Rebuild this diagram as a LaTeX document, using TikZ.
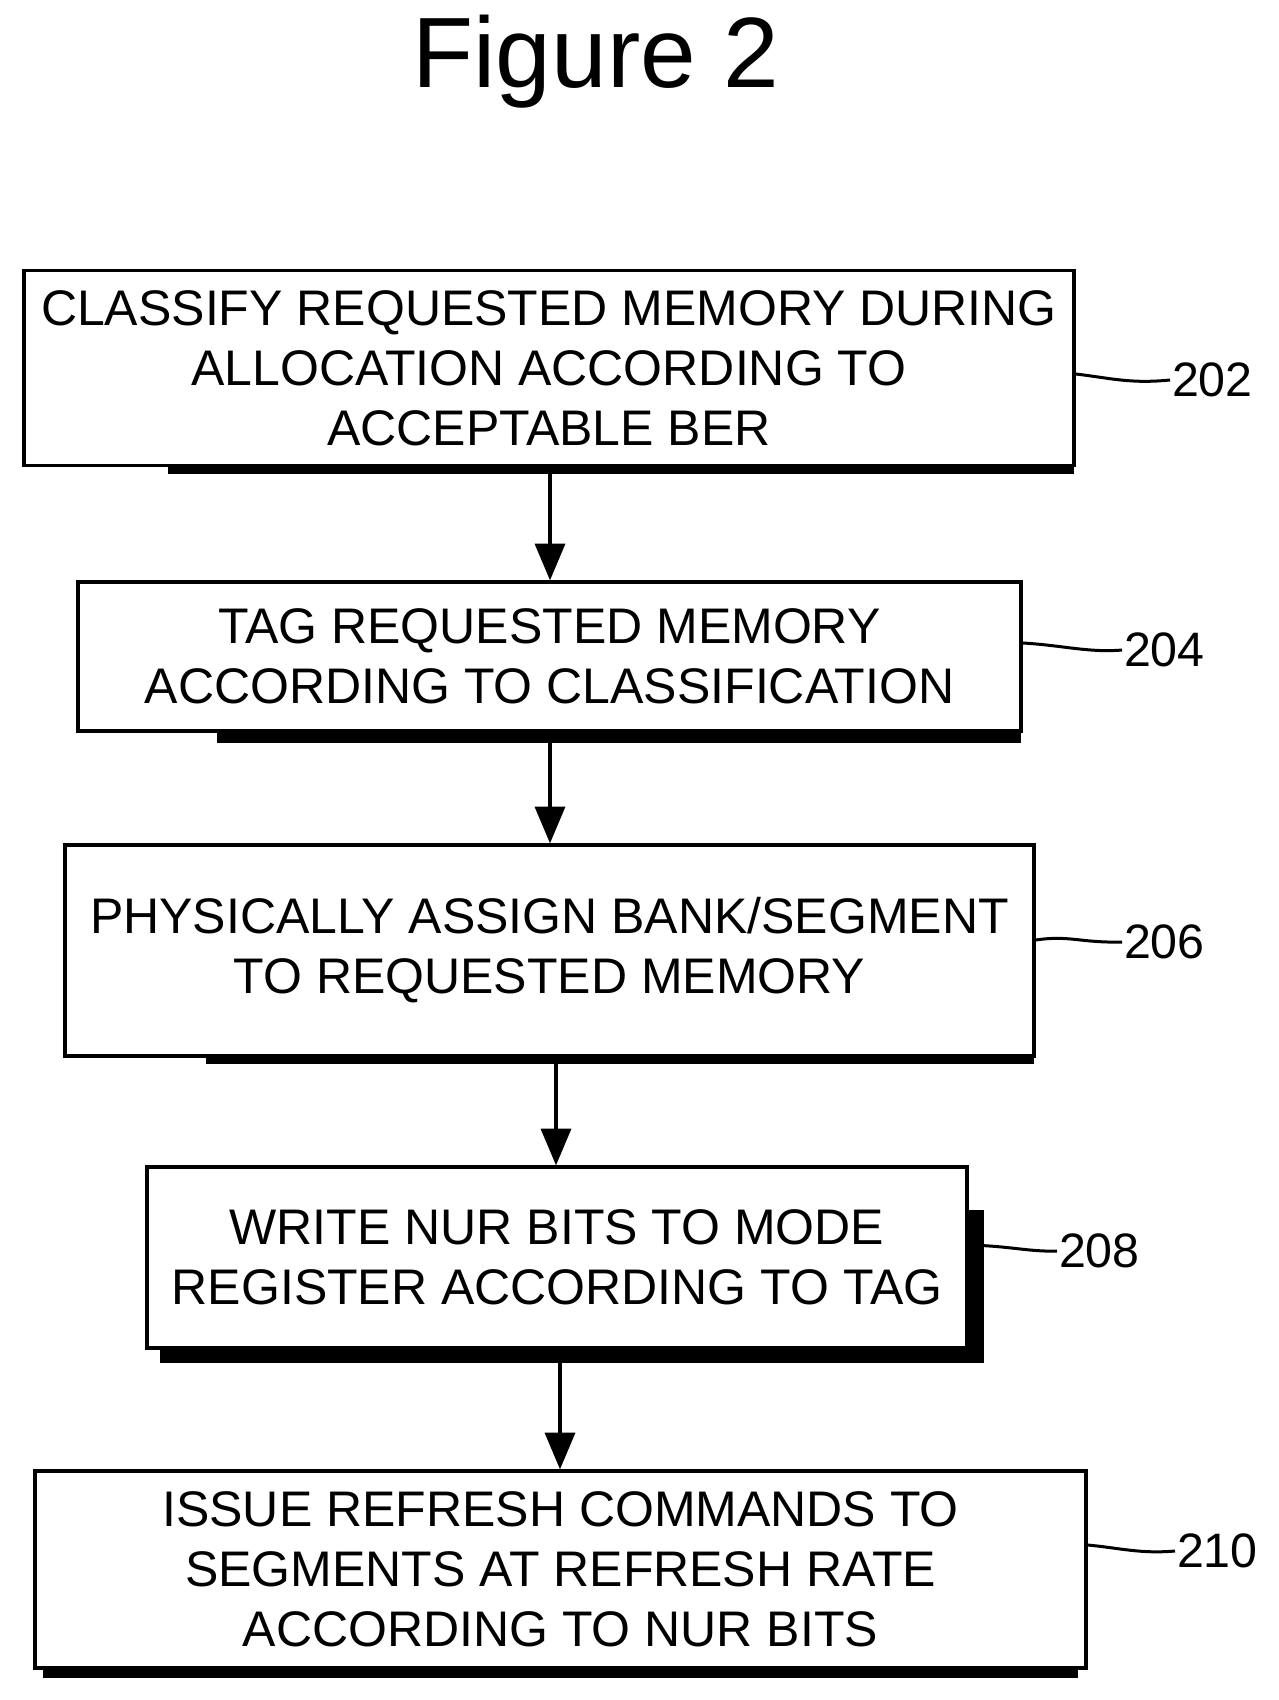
\documentclass[tikz,border=0pt]{standalone}
\usepackage{fontspec}
\setmainfont{Liberation Sans}
\usetikzlibrary{arrows.meta}
\begin{document}
\begin{tikzpicture}[x=0.6pt,y=-0.6pt,
  box/.style={draw,line width=2pt,fill=white,inner sep=0pt,align=center,font=\fontsize{30}{36}\selectfont},
  sh/.style={fill=black},
  arr/.style={line width=2pt,-{Triangle[length=22pt,width=18pt]}},
  lead/.style={line width=1.8pt},
  lab/.style={font=\fontsize{29}{32}\selectfont,anchor=west,inner sep=1pt}]
\useasboundingbox (0,0) rectangle (1279,1700);
\node[font=\fontsize{60}{62}\selectfont] (title) at (596,62) {Figure 2};
% shadows
\fill[sh] (168,460) rectangle (1074,474);
\fill[sh] (217,725) rectangle (1021,743);
\fill[sh] (206,1050) rectangle (1034,1064);
\fill[sh] (160,1340) rectangle (984,1363);
\fill[sh] (967,1210) rectangle (984,1363);
\fill[sh] (43,1660) rectangle (1078,1678);
% boxes
\node[box,minimum width=1050*0.6pt,minimum height=195*0.6pt] (b202) at (549,368) {CLASSIFY REQUESTED MEMORY DURING\\ALLOCATION ACCORDING TO\\ACCEPTABLE BER};
\node[box,minimum width=943*0.6pt,minimum height=149*0.6pt] (b204) at (549.5,656.5) {TAG REQUESTED MEMORY\\ACCORDING TO CLASSIFICATION};
\node[box,minimum width=969*0.6pt,minimum height=211*0.6pt] (b206) at (549.5,950.5) {PHYSICALLY ASSIGN BANK/SEGMENT\\TO REQUESTED MEMORY};
\node[box,minimum width=820*0.6pt,minimum height=181*0.6pt] (b208) at (557,1257.5) {WRITE NUR BITS TO MODE\\REGISTER ACCORDING TO TAG};
\node[box,minimum width=1051*0.6pt,minimum height=197*0.6pt] (b210) at (560.5,1569.5) {ISSUE REFRESH COMMANDS TO\\SEGMENTS AT REFRESH RATE\\ACCORDING TO NUR BITS};
% arrows
\draw[arr] (550,474) -- (b204.north -| 550,0);
\draw[arr] (550,743) -- (b206.north -| 550,0);
\draw[arr] (556,1064) -- (b208.north -| 556,0);
\draw[arr] (560,1363) -- (b210.north -| 560,0);
% labels
\node[lab] (l202) at (1170,380) {202};
\node[lab] (l204) at (1122,650) {204};
\node[lab] (l206) at (1122,942) {206};
\node[lab] (l208) at (1057,1251) {208};
\node[lab] (l210) at (1175,1551) {210};
\draw[lead] (b202.east |- 0,374) .. controls (1110,378) and (1130,384) .. (l202.west);
\draw[lead] (b204.east |- 0,643) .. controls (1060,645) and (1090,653) .. (l204.west);
\draw[lead] (b206.east |- 0,940) .. controls (1070,935) and (1080,943) .. (l206.west);
\draw[lead] (b208.east |- 0,1245) .. controls (1010,1246) and (1030,1252) .. (l208.west);
\draw[lead] (b210.east |- 0,1545) .. controls (1120,1548) and (1140,1554) .. (l210.west);
\end{tikzpicture}
\end{document}
